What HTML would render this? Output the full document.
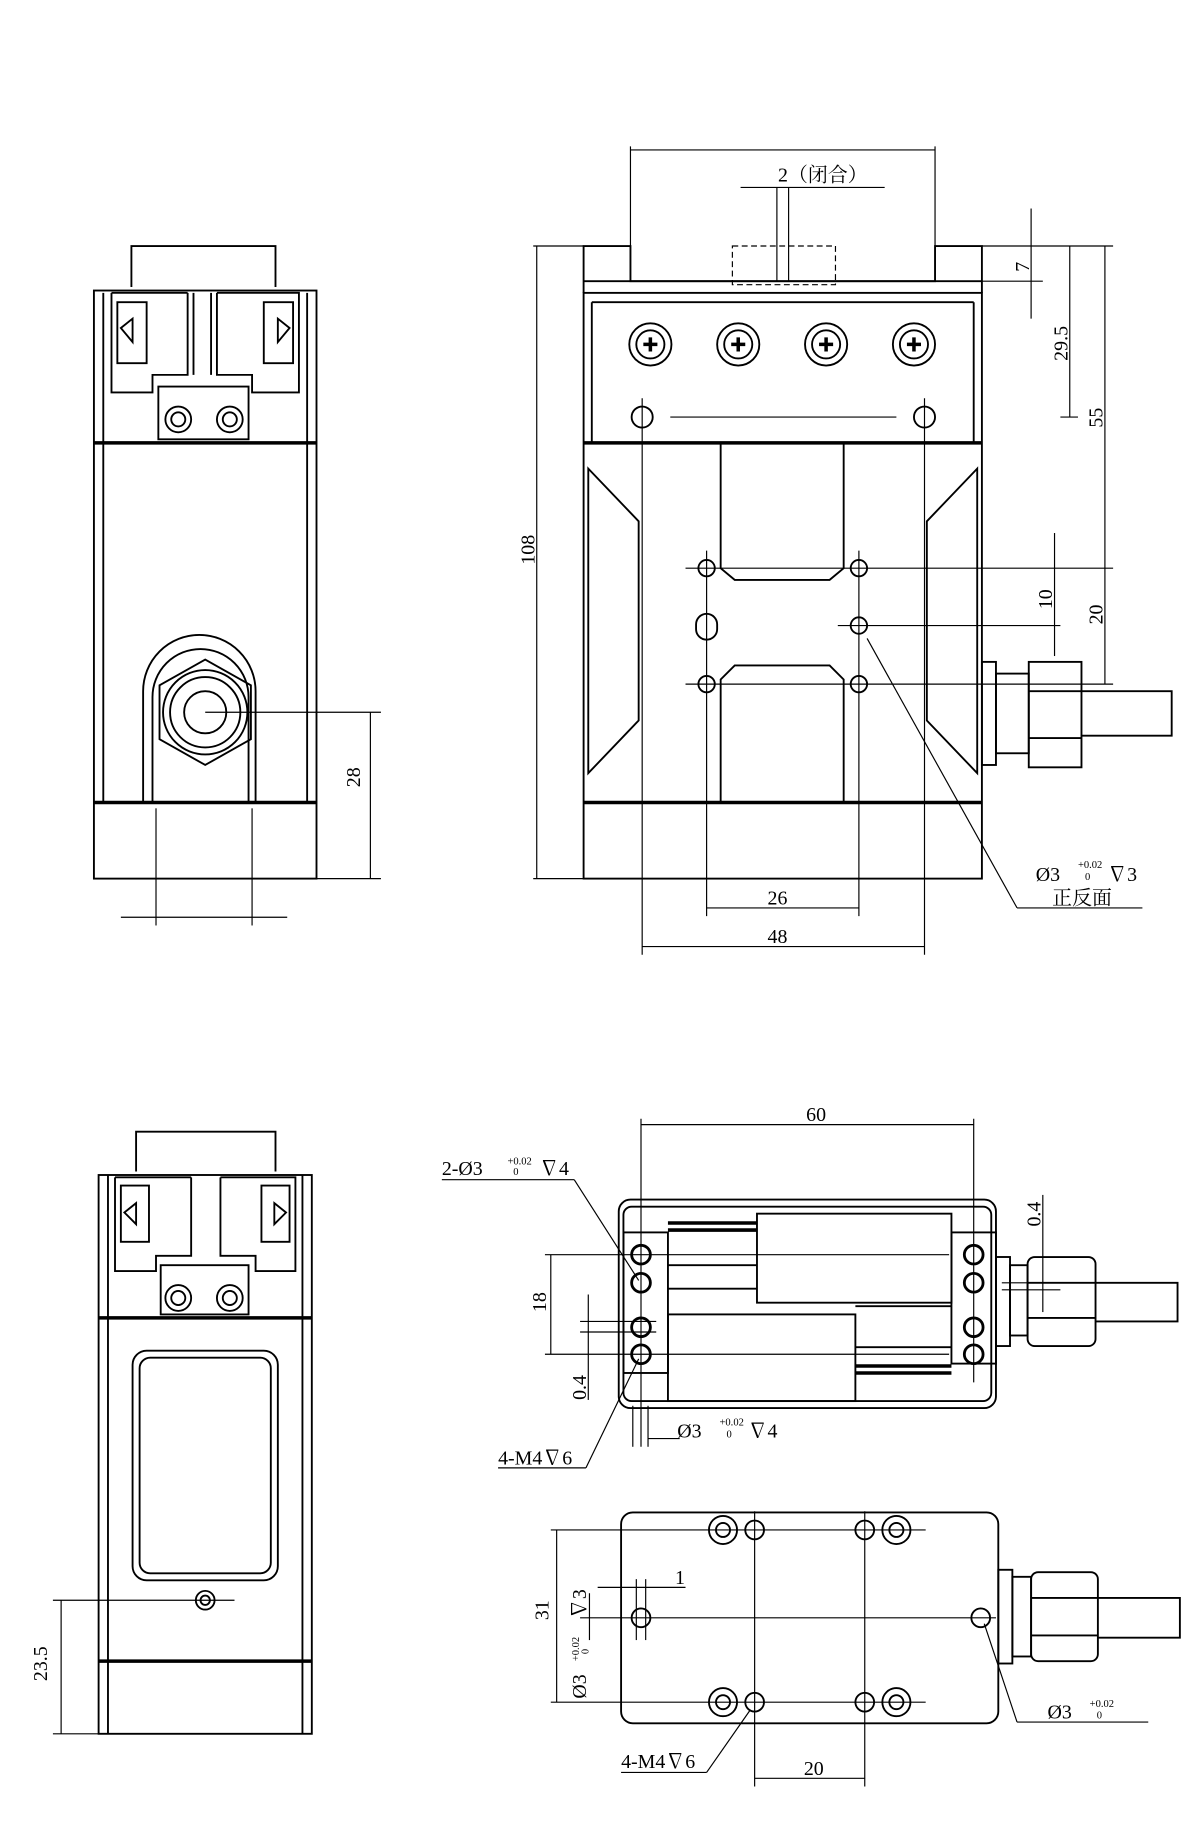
<!DOCTYPE html>
<html><head><meta charset="utf-8"><style>
html,body{margin:0;padding:0;background:#fff;}
svg{display:block;}
text{font-family:"Liberation Serif","Noto Serif CJK SC",serif;fill:#000;}
</style></head><body>
<svg width="1200" height="1824" viewBox="0 0 1024 1557" xmlns="http://www.w3.org/2000/svg">
<g fill="none" stroke="#000" stroke-width="1.6">
<!-- ============ TOP-LEFT VIEW ============ -->
<path d="M112,245 V210 H235 V245"/>
<rect x="80" y="248" width="190" height="502"/>
<line x1="80" y1="378" x2="270" y2="378" stroke-width="3"/>
<line x1="80" y1="685" x2="270" y2="685" stroke-width="3"/>
<line x1="88" y1="378" x2="88" y2="685"/><line x1="262" y1="378" x2="262" y2="685"/>
<line x1="88" y1="250" x2="88" y2="378"/><line x1="262" y1="250" x2="262" y2="378"/>
<path d="M95,250 V335 H130 V320 H160 V250 M95,250 H160 M185,250 V320 H215 V335 H255 V250 H185"/>
<path d="M135,330 V375 H212 V330 Z"/>
<path d="M100,258 H125 V310 H100 Z M225,258 H250 V310 H225 Z"/>
<path d="M103,280 l10,-8 v20 z M247,280 l-10,-8 v20 z"/>
<path d="M165,250 V320 M180,250 V320"/>
<circle cx="152" cy="358" r="11"/><circle cx="152" cy="358" r="6"/>
<circle cx="196" cy="358" r="11"/><circle cx="196" cy="358" r="6"/>
<path d="M122,685 V590 A48,48 0 0 1 218,590 V685"/>
<path d="M130,685 V595 A40,40 0 0 1 212,595 V685"/>
<polygon points="175,563 214,585 214,631 175,653 136,631 136,585"/>
<circle cx="175" cy="608" r="36"/><circle cx="175" cy="608" r="30"/><circle cx="175" cy="608" r="18"/>
<line x1="175" y1="608" x2="325" y2="608" stroke-width="1"/>
<line x1="270" y1="750" x2="325" y2="750" stroke-width="1"/>
<line x1="316" y1="608" x2="316" y2="750" stroke-width="1"/>
<line x1="133" y1="690" x2="133" y2="790" stroke-width="1"/>
<line x1="215" y1="690" x2="215" y2="790" stroke-width="1"/>
<line x1="103" y1="783" x2="245" y2="783" stroke-width="1"/>

<!-- ============ TOP-RIGHT VIEW ============ -->
<path d="M498,250 V210 H538 V240 H798 V210 H838 V250"/>
<line x1="498" y1="240" x2="838" y2="240"/>
<rect x="498" y="250" width="340" height="500"/>
<line x1="498" y1="378" x2="838" y2="378" stroke-width="3"/>
<line x1="498" y1="685" x2="838" y2="685" stroke-width="3"/>
<line x1="505" y1="258" x2="831" y2="258"/>
<line x1="505" y1="258" x2="505" y2="378"/><line x1="831" y1="258" x2="831" y2="378"/>
<rect x="625" y="210" width="88" height="33" stroke-dasharray="5,3" stroke-width="1"/>
<g>
<circle cx="555" cy="294" r="18"/><circle cx="555" cy="294" r="12"/>
<circle cx="630" cy="294" r="18"/><circle cx="630" cy="294" r="12"/>
<circle cx="705" cy="294" r="18"/><circle cx="705" cy="294" r="12"/>
<circle cx="780" cy="294" r="18"/><circle cx="780" cy="294" r="12"/>
</g>
<g stroke-width="3"><path d="M549,294 h12 M555,288 v12 M624,294 h12 M630,288 v12 M699,294 h12 M705,288 v12 M774,294 h12 M780,288 v12"/></g>
<circle cx="548" cy="356" r="9"/><circle cx="789" cy="356" r="9"/>
<line x1="572" y1="356" x2="765" y2="356" stroke-width="1"/>
<path d="M502,400 L545,445 V615 L502,660 Z"/>
<path d="M834,400 L791,445 V615 L834,660 Z"/>
<path d="M615,378 V485 L627,495 H708 L720,485 V378"/>
<path d="M615,685 V580 L627,568 H708 L720,580 V685"/>
<circle cx="603" cy="485" r="7"/><circle cx="733" cy="485" r="7"/>
<circle cx="603" cy="584" r="7"/><circle cx="733" cy="584" r="7"/>
<circle cx="733" cy="534" r="7"/>
<rect x="594" y="524" width="18" height="22" rx="9"/>
<line x1="548" y1="340" x2="548" y2="815" stroke-width="1"/>
<line x1="789" y1="340" x2="789" y2="815" stroke-width="1"/>
<line x1="603" y1="470" x2="603" y2="782" stroke-width="1"/>
<line x1="733" y1="470" x2="733" y2="782" stroke-width="1"/>
<line x1="585" y1="485" x2="950" y2="485" stroke-width="1"/>
<line x1="715" y1="534" x2="905" y2="534" stroke-width="1"/>
<line x1="585" y1="584" x2="950" y2="584" stroke-width="1"/>
<!-- cable gland -->
<rect x="838" y="565" width="12" height="88"/>
<rect x="850" y="575" width="28" height="68"/>
<rect x="878" y="565" width="45" height="90"/>
<line x1="878" y1="590" x2="923" y2="590"/><line x1="878" y1="630" x2="923" y2="630"/>
<path d="M923,590 H1000 V628 H923"/>
<!-- dims -->
<g stroke-width="1">
<line x1="538" y1="125" x2="538" y2="240"/><line x1="798" y1="125" x2="798" y2="240"/>
<line x1="538" y1="128" x2="798" y2="128"/>
<line x1="663" y1="160" x2="663" y2="240"/><line x1="673" y1="160" x2="673" y2="240"/>
<line x1="632" y1="160" x2="755" y2="160"/>
<line x1="838" y1="210" x2="950" y2="210"/><line x1="838" y1="240" x2="890" y2="240"/>
<line x1="880" y1="178" x2="880" y2="272"/>
<line x1="905" y1="356" x2="920" y2="356"/><line x1="913" y1="210" x2="913" y2="356"/>
<line x1="943" y1="210" x2="943" y2="485"/>
<line x1="943" y1="485" x2="943" y2="584"/>
<line x1="900" y1="455" x2="900" y2="560"/>
<line x1="455" y1="210" x2="498" y2="210"/><line x1="455" y1="750" x2="498" y2="750"/>
<line x1="458" y1="210" x2="458" y2="750"/>
<line x1="603" y1="775" x2="733" y2="775"/>
<line x1="548" y1="808" x2="789" y2="808"/>
<line x1="740" y1="545" x2="868" y2="775"/><line x1="868" y1="775" x2="975" y2="775"/>
</g>

<!-- ============ BOTTOM-LEFT VIEW ============ -->
<path d="M116,1000 V966 H235 V1000"/>
<rect x="84" y="1003" width="182" height="477"/>
<line x1="84" y1="1125" x2="266" y2="1125" stroke-width="3"/>
<line x1="84" y1="1418" x2="266" y2="1418" stroke-width="3"/>
<line x1="92" y1="1003" x2="92" y2="1480"/><line x1="258" y1="1003" x2="258" y2="1480"/>
<path d="M98,1005 V1085 H133 V1072 H163 V1005 M98,1005 H163 M188,1005 V1072 H218 V1085 H252 V1005 H188"/>
<path d="M137,1080 V1122 H212 V1080 Z"/>
<path d="M103,1012 H127 V1060 H103 Z M223,1012 H247 V1060 H223 Z"/>
<path d="M106,1035 l10,-8 v18 z M244,1035 l-10,-8 v18 z"/>
<circle cx="152" cy="1108" r="11"/><circle cx="152" cy="1108" r="6"/>
<circle cx="196" cy="1108" r="11"/><circle cx="196" cy="1108" r="6"/>
<rect x="113" y="1153" width="124" height="196" rx="12"/>
<rect x="119" y="1159" width="112" height="184" rx="9"/>
<circle cx="175" cy="1366" r="8"/><circle cx="175" cy="1366" r="4"/>
<g stroke-width="1">
<line x1="45" y1="1366" x2="200" y2="1366"/>
<line x1="45" y1="1480" x2="84" y2="1480"/>
<line x1="52" y1="1366" x2="52" y2="1480"/>
</g>

<!-- ============ BOTTOM-RIGHT VIEW 1 ============ -->
<rect x="528" y="1024" width="322" height="178" rx="10"/>
<rect x="532" y="1030" width="314" height="166" rx="7"/>
<rect x="532" y="1052" width="38" height="120"/>
<rect x="812" y="1052" width="38" height="112"/>
<rect x="646" y="1036" width="166" height="76"/>
<rect x="570" y="1122" width="160" height="74"/>
<g stroke-width="3"><line x1="570" y1="1044" x2="646" y2="1044"/><line x1="570" y1="1050" x2="646" y2="1050"/>
<line x1="730" y1="1166" x2="812" y2="1166"/><line x1="730" y1="1172" x2="812" y2="1172"/></g>
<line x1="570" y1="1080" x2="646" y2="1080"/><line x1="570" y1="1100" x2="646" y2="1100"/>
<line x1="730" y1="1115" x2="812" y2="1115"/><line x1="730" y1="1150" x2="812" y2="1150"/>
<g stroke-width="2.4">
<circle cx="547" cy="1071" r="8"/><circle cx="547" cy="1095" r="8"/><circle cx="547" cy="1133" r="8"/><circle cx="547" cy="1156" r="8"/>
<circle cx="831" cy="1071" r="8"/><circle cx="831" cy="1095" r="8"/><circle cx="831" cy="1133" r="8"/><circle cx="831" cy="1156" r="8"/>
</g>
<rect x="850" y="1073" width="12" height="76"/>
<rect x="862" y="1080" width="15" height="60"/>
<rect x="877" y="1073" width="58" height="76" rx="6"/>
<line x1="877" y1="1095" x2="935" y2="1095"/><line x1="877" y1="1125" x2="935" y2="1125"/>
<path d="M935,1095 H1005 V1128 H935"/>
<g stroke-width="1">
<line x1="547" y1="955" x2="547" y2="1235"/><line x1="831" y1="955" x2="831" y2="1180"/>
<line x1="547" y1="960" x2="831" y2="960"/>
<line x1="540" y1="1200" x2="540" y2="1235"/><line x1="553" y1="1200" x2="553" y2="1235"/>
<line x1="553" y1="1228" x2="580" y2="1228"/>
<line x1="465" y1="1071" x2="810" y2="1071"/><line x1="465" y1="1156" x2="810" y2="1156"/>
<line x1="470" y1="1071" x2="470" y2="1156"/>
<line x1="495" y1="1128" x2="560" y2="1128"/><line x1="495" y1="1137" x2="560" y2="1137"/>
<line x1="502" y1="1105" x2="502" y2="1195"/>
<line x1="855" y1="1095" x2="905" y2="1095"/><line x1="855" y1="1101" x2="905" y2="1101"/>
<line x1="890" y1="1020" x2="890" y2="1120"/>
<line x1="377" y1="1007" x2="490" y2="1007"/><line x1="490" y1="1007" x2="545" y2="1093"/>
<line x1="425" y1="1253" x2="500" y2="1253"/><line x1="500" y1="1253" x2="545" y2="1160"/>
</g>

<!-- ============ BOTTOM-RIGHT VIEW 2 ============ -->
<rect x="530" y="1291" width="322" height="180" rx="10"/>
<rect x="852" y="1340" width="12" height="80"/>
<rect x="864" y="1346" width="16" height="68"/>
<rect x="880" y="1342" width="57" height="76" rx="6"/>
<line x1="880" y1="1364" x2="937" y2="1364"/><line x1="880" y1="1396" x2="937" y2="1396"/>
<path d="M937,1364 H1007 V1398 H937"/>
<circle cx="617" cy="1306" r="12"/><circle cx="617" cy="1306" r="6"/>
<circle cx="765" cy="1306" r="12"/><circle cx="765" cy="1306" r="6"/>
<circle cx="617" cy="1453" r="12"/><circle cx="617" cy="1453" r="6"/>
<circle cx="765" cy="1453" r="12"/><circle cx="765" cy="1453" r="6"/>
<circle cx="644" cy="1306" r="8"/><circle cx="738" cy="1306" r="8"/>
<circle cx="644" cy="1453" r="8"/><circle cx="738" cy="1453" r="8"/>
<circle cx="547" cy="1381" r="8"/><circle cx="837" cy="1381" r="8"/>
<g stroke-width="1">
<line x1="470" y1="1306" x2="790" y2="1306"/><line x1="470" y1="1453" x2="790" y2="1453"/>
<line x1="475" y1="1306" x2="475" y2="1453"/>
<line x1="495" y1="1381" x2="850" y2="1381"/>
<line x1="543" y1="1348" x2="543" y2="1400"/><line x1="551" y1="1348" x2="551" y2="1400"/>
<line x1="510" y1="1355" x2="585" y2="1355"/>
<line x1="644" y1="1290" x2="644" y2="1525"/><line x1="738" y1="1290" x2="738" y2="1525"/>
<line x1="644" y1="1518" x2="738" y2="1518"/>
<line x1="840" y1="1386" x2="868" y2="1470"/><line x1="868" y1="1470" x2="980" y2="1470"/>
<line x1="530" y1="1513" x2="603" y2="1513"/><line x1="603" y1="1513" x2="640" y2="1460"/>
<line x1="503" y1="1360" x2="503" y2="1400"/>
</g>
</g>

<!-- ============ TEXT ============ -->
<g font-size="17">
<text x="307" y="672" transform="rotate(-90 307 672)">28</text>
<text x="664" y="155">2（闭合）</text>
<text x="878" y="232" transform="rotate(-90 878 232)">7</text>
<text x="911" y="308" transform="rotate(-90 911 308)">29.5</text>
<text x="941" y="365" transform="rotate(-90 941 365)">55</text>
<text x="898" y="520" transform="rotate(-90 898 520)">10</text>
<text x="941" y="533" transform="rotate(-90 941 533)">20</text>
<text x="456" y="482" transform="rotate(-90 456 482)">108</text>
<text x="655" y="772">26</text>
<text x="655" y="805">48</text>
<text x="884" y="752">Ø3</text><text x="920" y="741" font-size="9">+0.02</text><text x="926" y="751" font-size="9">0</text><text x="945" y="752">∇3</text>
<text x="898" y="772">正反面</text>
<text x="40" y="1435" transform="rotate(-90 40 1435)">23.5</text>
<text x="688" y="957">60</text>
<text x="377" y="1003">2-Ø3</text><text x="433" y="994" font-size="9">+0.02</text><text x="438" y="1003" font-size="9">0</text><text x="460" y="1003">∇4</text>
<text x="466" y="1120" transform="rotate(-90 466 1120)">18</text>
<text x="500" y="1195" transform="rotate(-90 500 1195)">0.4</text>
<text x="888" y="1047" transform="rotate(-90 888 1047)">0.4</text>
<text x="578" y="1227">Ø3</text><text x="614" y="1217" font-size="9">+0.02</text><text x="620" y="1227" font-size="9">0</text><text x="638" y="1227">∇4</text>
<text x="425" y="1250">4-M4∇6</text>
<text x="576" y="1352">1</text>
<text x="468" y="1383" transform="rotate(-90 468 1383)">31</text>
<text x="500" y="1450" transform="rotate(-90 500 1450)">Ø3</text>
<text x="494" y="1418" font-size="9" transform="rotate(-90 494 1418)">+0.02</text>
<text x="502" y="1412" font-size="9" transform="rotate(-90 502 1412)">0</text>
<text x="500" y="1382" transform="rotate(-90 500 1382)">∇3</text>
<text x="894" y="1467">Ø3</text><text x="930" y="1457" font-size="9">+0.02</text><text x="936" y="1467" font-size="9">0</text>
<text x="530" y="1509">4-M4∇6</text>
<text x="686" y="1515">20</text>
</g>
</svg>
</body></html>
